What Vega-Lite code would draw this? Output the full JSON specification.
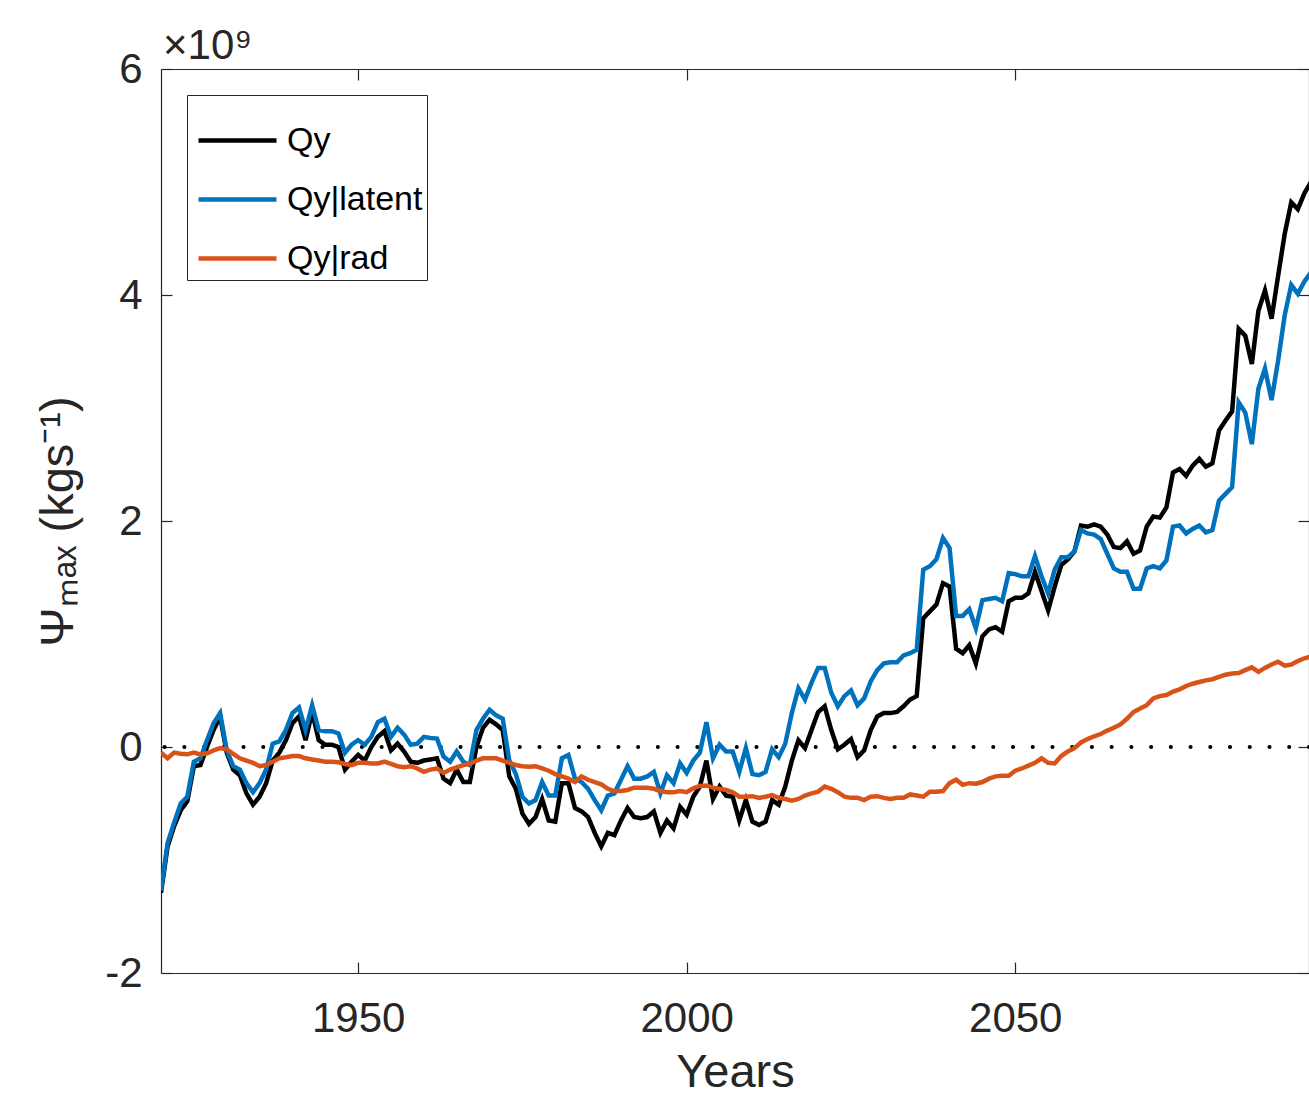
{
"$schema": "https://vega.github.io/schema/vega-lite/v6.json",
"width": 1148, "height": 904,
"autosize": {"type": "none"},
"padding": {"left": 161, "top": 69, "right": 0, "bottom": 122},
"background": "white",
"title": {"text": "×10⁹", "anchor": "start", "frame": "group", "fontSize": 42, "fontWeight": "normal", "color": "#262626", "font": "Liberation Sans", "offset": -20, "dx": 2},
"data": {"values": [
{"year":1920,"qy":-1.29,"lat":-1.27,"rad":-0.05},
{"year":1921,"qy":-0.88,"lat":-0.85,"rad":-0.10},
{"year":1922,"qy":-0.70,"lat":-0.67,"rad":-0.05},
{"year":1923,"qy":-0.56,"lat":-0.50,"rad":-0.06},
{"year":1924,"qy":-0.48,"lat":-0.44,"rad":-0.065},
{"year":1925,"qy":-0.17,"lat":-0.13,"rad":-0.05},
{"year":1926,"qy":-0.16,"lat":-0.10,"rad":-0.065},
{"year":1927,"qy":0.00,"lat":0.06,"rad":-0.055},
{"year":1928,"qy":0.15,"lat":0.21,"rad":-0.03},
{"year":1929,"qy":0.27,"lat":0.30,"rad":-0.01},
{"year":1930,"qy":-0.05,"lat":-0.03,"rad":-0.02},
{"year":1931,"qy":-0.20,"lat":-0.17,"rad":-0.06},
{"year":1932,"qy":-0.25,"lat":-0.20,"rad":-0.10},
{"year":1933,"qy":-0.41,"lat":-0.32,"rad":-0.12},
{"year":1934,"qy":-0.51,"lat":-0.40,"rad":-0.14},
{"year":1935,"qy":-0.44,"lat":-0.32,"rad":-0.17},
{"year":1936,"qy":-0.32,"lat":-0.20,"rad":-0.16},
{"year":1937,"qy":-0.12,"lat":0.03,"rad":-0.13},
{"year":1938,"qy":-0.05,"lat":0.05,"rad":-0.10},
{"year":1939,"qy":0.06,"lat":0.15,"rad":-0.09},
{"year":1940,"qy":0.21,"lat":0.30,"rad":-0.08},
{"year":1941,"qy":0.27,"lat":0.35,"rad":-0.08},
{"year":1942,"qy":0.06,"lat":0.15,"rad":-0.10},
{"year":1943,"qy":0.31,"lat":0.37,"rad":-0.11},
{"year":1944,"qy":0.06,"lat":0.15,"rad":-0.12},
{"year":1945,"qy":0.02,"lat":0.14,"rad":-0.13},
{"year":1946,"qy":0.02,"lat":0.14,"rad":-0.13},
{"year":1947,"qy":0.00,"lat":0.12,"rad":-0.135},
{"year":1948,"qy":-0.20,"lat":-0.05,"rad":-0.15},
{"year":1949,"qy":-0.13,"lat":0.02,"rad":-0.16},
{"year":1950,"qy":-0.07,"lat":0.06,"rad":-0.14},
{"year":1951,"qy":-0.12,"lat":0.02,"rad":-0.14},
{"year":1952,"qy":0.00,"lat":0.09,"rad":-0.145},
{"year":1953,"qy":0.09,"lat":0.22,"rad":-0.145},
{"year":1954,"qy":0.14,"lat":0.25,"rad":-0.13},
{"year":1955,"qy":-0.03,"lat":0.09,"rad":-0.15},
{"year":1956,"qy":0.03,"lat":0.17,"rad":-0.17},
{"year":1957,"qy":-0.04,"lat":0.11,"rad":-0.18},
{"year":1958,"qy":-0.13,"lat":0.02,"rad":-0.17},
{"year":1959,"qy":-0.14,"lat":0.03,"rad":-0.19},
{"year":1960,"qy":-0.12,"lat":0.09,"rad":-0.22},
{"year":1961,"qy":-0.11,"lat":0.08,"rad":-0.20},
{"year":1962,"qy":-0.10,"lat":0.075,"rad":-0.19},
{"year":1963,"qy":-0.28,"lat":-0.085,"rad":-0.23},
{"year":1964,"qy":-0.32,"lat":-0.13,"rad":-0.20},
{"year":1965,"qy":-0.20,"lat":-0.04,"rad":-0.18},
{"year":1966,"qy":-0.31,"lat":-0.13,"rad":-0.16},
{"year":1967,"qy":-0.31,"lat":-0.16,"rad":-0.15},
{"year":1968,"qy":0.00,"lat":0.15,"rad":-0.12},
{"year":1969,"qy":0.17,"lat":0.25,"rad":-0.10},
{"year":1970,"qy":0.24,"lat":0.33,"rad":-0.10},
{"year":1971,"qy":0.20,"lat":0.28,"rad":-0.10},
{"year":1972,"qy":0.15,"lat":0.25,"rad":-0.12},
{"year":1973,"qy":-0.26,"lat":-0.12,"rad":-0.14},
{"year":1974,"qy":-0.37,"lat":-0.24,"rad":-0.16},
{"year":1975,"qy":-0.59,"lat":-0.44,"rad":-0.17},
{"year":1976,"qy":-0.68,"lat":-0.50,"rad":-0.175},
{"year":1977,"qy":-0.62,"lat":-0.47,"rad":-0.17},
{"year":1978,"qy":-0.46,"lat":-0.31,"rad":-0.19},
{"year":1979,"qy":-0.65,"lat":-0.43,"rad":-0.21},
{"year":1980,"qy":-0.66,"lat":-0.43,"rad":-0.24},
{"year":1981,"qy":-0.32,"lat":-0.10,"rad":-0.26},
{"year":1982,"qy":-0.32,"lat":-0.07,"rad":-0.28},
{"year":1983,"qy":-0.54,"lat":-0.28,"rad":-0.31},
{"year":1984,"qy":-0.57,"lat":-0.31,"rad":-0.26},
{"year":1985,"qy":-0.62,"lat":-0.37,"rad":-0.29},
{"year":1986,"qy":-0.76,"lat":-0.47,"rad":-0.31},
{"year":1987,"qy":-0.88,"lat":-0.56,"rad":-0.33},
{"year":1988,"qy":-0.76,"lat":-0.43,"rad":-0.37},
{"year":1989,"qy":-0.78,"lat":-0.41,"rad":-0.39},
{"year":1990,"qy":-0.65,"lat":-0.29,"rad":-0.39},
{"year":1991,"qy":-0.54,"lat":-0.17,"rad":-0.38},
{"year":1992,"qy":-0.62,"lat":-0.28,"rad":-0.36},
{"year":1993,"qy":-0.63,"lat":-0.28,"rad":-0.36},
{"year":1994,"qy":-0.62,"lat":-0.26,"rad":-0.36},
{"year":1995,"qy":-0.57,"lat":-0.22,"rad":-0.37},
{"year":1996,"qy":-0.76,"lat":-0.41,"rad":-0.39},
{"year":1997,"qy":-0.65,"lat":-0.25,"rad":-0.40},
{"year":1998,"qy":-0.72,"lat":-0.32,"rad":-0.40},
{"year":1999,"qy":-0.53,"lat":-0.145,"rad":-0.39},
{"year":2000,"qy":-0.60,"lat":-0.23,"rad":-0.40},
{"year":2001,"qy":-0.44,"lat":-0.12,"rad":-0.365},
{"year":2002,"qy":-0.35,"lat":-0.05,"rad":-0.345},
{"year":2003,"qy":-0.12,"lat":0.22,"rad":-0.34},
{"year":2004,"qy":-0.46,"lat":-0.10,"rad":-0.36},
{"year":2005,"qy":-0.35,"lat":0.02,"rad":-0.37},
{"year":2006,"qy":-0.43,"lat":-0.04,"rad":-0.38},
{"year":2007,"qy":-0.44,"lat":-0.04,"rad":-0.40},
{"year":2008,"qy":-0.65,"lat":-0.22,"rad":-0.44},
{"year":2009,"qy":-0.47,"lat":-0.01,"rad":-0.44},
{"year":2010,"qy":-0.66,"lat":-0.24,"rad":-0.435},
{"year":2011,"qy":-0.69,"lat":-0.25,"rad":-0.45},
{"year":2012,"qy":-0.66,"lat":-0.22,"rad":-0.44},
{"year":2013,"qy":-0.47,"lat":-0.02,"rad":-0.425},
{"year":2014,"qy":-0.51,"lat":-0.09,"rad":-0.45},
{"year":2015,"qy":-0.35,"lat":0.03,"rad":-0.46},
{"year":2016,"qy":-0.12,"lat":0.30,"rad":-0.475},
{"year":2017,"qy":0.06,"lat":0.52,"rad":-0.46},
{"year":2018,"qy":-0.01,"lat":0.42,"rad":-0.43},
{"year":2019,"qy":0.15,"lat":0.57,"rad":-0.41},
{"year":2020,"qy":0.31,"lat":0.70,"rad":-0.395},
{"year":2021,"qy":0.36,"lat":0.70,"rad":-0.35},
{"year":2022,"qy":0.15,"lat":0.48,"rad":-0.37},
{"year":2023,"qy":-0.02,"lat":0.36,"rad":-0.40},
{"year":2024,"qy":0.02,"lat":0.45,"rad":-0.44},
{"year":2025,"qy":0.07,"lat":0.50,"rad":-0.45},
{"year":2026,"qy":-0.09,"lat":0.37,"rad":-0.45},
{"year":2027,"qy":-0.03,"lat":0.43,"rad":-0.47},
{"year":2028,"qy":0.15,"lat":0.58,"rad":-0.44},
{"year":2029,"qy":0.27,"lat":0.68,"rad":-0.435},
{"year":2030,"qy":0.30,"lat":0.74,"rad":-0.45},
{"year":2031,"qy":0.30,"lat":0.75,"rad":-0.46},
{"year":2032,"qy":0.31,"lat":0.75,"rad":-0.45},
{"year":2033,"qy":0.36,"lat":0.81,"rad":-0.45},
{"year":2034,"qy":0.42,"lat":0.83,"rad":-0.42},
{"year":2035,"qy":0.45,"lat":0.86,"rad":-0.43},
{"year":2036,"qy":1.14,"lat":1.57,"rad":-0.44},
{"year":2037,"qy":1.20,"lat":1.60,"rad":-0.395},
{"year":2038,"qy":1.26,"lat":1.66,"rad":-0.395},
{"year":2039,"qy":1.45,"lat":1.85,"rad":-0.39},
{"year":2040,"qy":1.42,"lat":1.76,"rad":-0.32},
{"year":2041,"qy":0.87,"lat":1.16,"rad":-0.29},
{"year":2042,"qy":0.83,"lat":1.16,"rad":-0.335},
{"year":2043,"qy":0.90,"lat":1.22,"rad":-0.32},
{"year":2044,"qy":0.74,"lat":1.05,"rad":-0.325},
{"year":2045,"qy":0.98,"lat":1.30,"rad":-0.31},
{"year":2046,"qy":1.04,"lat":1.31,"rad":-0.28},
{"year":2047,"qy":1.06,"lat":1.32,"rad":-0.26},
{"year":2048,"qy":1.02,"lat":1.29,"rad":-0.255},
{"year":2049,"qy":1.29,"lat":1.54,"rad":-0.255},
{"year":2050,"qy":1.32,"lat":1.53,"rad":-0.21},
{"year":2051,"qy":1.32,"lat":1.51,"rad":-0.19},
{"year":2052,"qy":1.36,"lat":1.51,"rad":-0.165},
{"year":2053,"qy":1.55,"lat":1.69,"rad":-0.14},
{"year":2054,"qy":1.38,"lat":1.51,"rad":-0.10},
{"year":2055,"qy":1.21,"lat":1.36,"rad":-0.14},
{"year":2056,"qy":1.42,"lat":1.57,"rad":-0.145},
{"year":2057,"qy":1.61,"lat":1.68,"rad":-0.08},
{"year":2058,"qy":1.66,"lat":1.68,"rad":-0.04},
{"year":2059,"qy":1.73,"lat":1.73,"rad":-0.01},
{"year":2060,"qy":1.96,"lat":1.92,"rad":0.04},
{"year":2061,"qy":1.95,"lat":1.89,"rad":0.07},
{"year":2062,"qy":1.97,"lat":1.88,"rad":0.095},
{"year":2063,"qy":1.95,"lat":1.84,"rad":0.115},
{"year":2064,"qy":1.88,"lat":1.71,"rad":0.145},
{"year":2065,"qy":1.77,"lat":1.58,"rad":0.17},
{"year":2066,"qy":1.76,"lat":1.55,"rad":0.20},
{"year":2067,"qy":1.82,"lat":1.55,"rad":0.25},
{"year":2068,"qy":1.71,"lat":1.40,"rad":0.31},
{"year":2069,"qy":1.74,"lat":1.40,"rad":0.34},
{"year":2070,"qy":1.95,"lat":1.58,"rad":0.37},
{"year":2071,"qy":2.04,"lat":1.60,"rad":0.43},
{"year":2072,"qy":2.03,"lat":1.58,"rad":0.45},
{"year":2073,"qy":2.12,"lat":1.65,"rad":0.46},
{"year":2074,"qy":2.43,"lat":1.95,"rad":0.49},
{"year":2075,"qy":2.46,"lat":1.96,"rad":0.51},
{"year":2076,"qy":2.40,"lat":1.89,"rad":0.54},
{"year":2077,"qy":2.49,"lat":1.93,"rad":0.56},
{"year":2078,"qy":2.55,"lat":1.96,"rad":0.575},
{"year":2079,"qy":2.48,"lat":1.90,"rad":0.59},
{"year":2080,"qy":2.51,"lat":1.92,"rad":0.60},
{"year":2081,"qy":2.80,"lat":2.18,"rad":0.62},
{"year":2082,"qy":2.89,"lat":2.24,"rad":0.64},
{"year":2083,"qy":2.97,"lat":2.30,"rad":0.65},
{"year":2084,"qy":3.70,"lat":3.05,"rad":0.655},
{"year":2085,"qy":3.64,"lat":2.96,"rad":0.68},
{"year":2086,"qy":3.39,"lat":2.68,"rad":0.705},
{"year":2087,"qy":3.86,"lat":3.17,"rad":0.665},
{"year":2088,"qy":4.04,"lat":3.35,"rad":0.70},
{"year":2089,"qy":3.79,"lat":3.07,"rad":0.73},
{"year":2090,"qy":4.17,"lat":3.42,"rad":0.755},
{"year":2091,"qy":4.54,"lat":3.82,"rad":0.72},
{"year":2092,"qy":4.82,"lat":4.09,"rad":0.73},
{"year":2093,"qy":4.76,"lat":4.01,"rad":0.76},
{"year":2094,"qy":4.90,"lat":4.12,"rad":0.785},
{"year":2095,"qy":5.00,"lat":4.20,"rad":0.80}
]},
"transform": [{"fold": ["qy", "lat", "rad"], "as": ["series", "value"]}],
"layer": [
 {
  "data": {"values": [{"ref": 0}]},
  "mark": {"type": "rule", "color": "black", "strokeWidth": 4, "strokeDash": [0.1, 19.63], "strokeCap": "round"},
  "encoding": {
   "y": {"field": "ref", "type": "quantitative", "scale": {"domain": [-2, 6], "nice": false, "zero": false}, "axis": null}
  }
 },
 {
  "mark": {"type": "line", "strokeWidth": 4.5, "clip": true},
  "encoding": {
   "x": {"field": "year", "type": "quantitative", "scale": {"domain": [1920, 2094.7], "nice": false, "zero": false},
         "axis": {"orient": "bottom", "values": [1950, 2000, 2050], "format": "d", "labelPadding": 36.5, "title": "Years", "titlePadding": 10}},
   "y": {"field": "value", "type": "quantitative", "scale": {"domain": [-2, 6], "nice": false, "zero": false},
         "axis": {"orient": "left", "values": [-2, 0, 2, 4, 6], "labelExpr": "datum.value < 0 ? '-' + abs(datum.value) : '' + datum.value", "labelPadding": 30, "title": "Ψₘₐₓ (kgs⁻¹)", "titlePadding": 22}},
   "color": {"field": "series", "type": "nominal",
             "scale": {"domain": ["qy", "lat", "rad"], "range": ["#000000", "#0072BD", "#D95319"]},
             "legend": {"orient": "top-left", "offset": 26, "title": null, "symbolType": "stroke", "symbolSize": 6084, "symbolStrokeWidth": 4.5,
                        "symbolOffset": 5, "labelFontSize": 34, "labelFont": "Liberation Sans", "labelColor": "#000000", "labelOffset": 8,
                        "strokeColor": "#262626", "fillColor": "white", "padding": 4, "rowPadding": -2,
                        "labelExpr": "{'qy': 'Qy\u00a0', 'lat': 'Qy|latent\u00a0', 'rad': 'Qy|rad\u00a0'}[datum.label]"}}
  }
 },
 {
  "mark": {"type": "line", "opacity": 0, "clip": true},
  "encoding": {
   "x": {"field": "year", "type": "quantitative", "axis": {"orient": "top", "values": [1950, 2000, 2050], "labels": false, "title": null}},
   "y": {"field": "value", "type": "quantitative", "axis": {"orient": "right", "values": [-2, 0, 2, 4, 6], "labels": false, "title": null}},
   "detail": {"field": "series"}
  }
 }
],
"resolve": {"axis": {"x": "independent", "y": "independent"}},
"config": {
 "view": {"stroke": null},
 "axis": {"domainColor": "#262626", "tickColor": "#262626", "labelColor": "#262626", "titleColor": "#262626",
          "labelFont": "Liberation Sans", "titleFont": "Liberation Sans", "labelFontSize": 42, "titleFontSize": 47,
          "titleFontWeight": "normal", "grid": false, "tickSize": -11, "domainWidth": 1.2, "tickWidth": 1.2,
          "labelFlush": false, "labelOverlap": false, "labelBound": false}
}
}
